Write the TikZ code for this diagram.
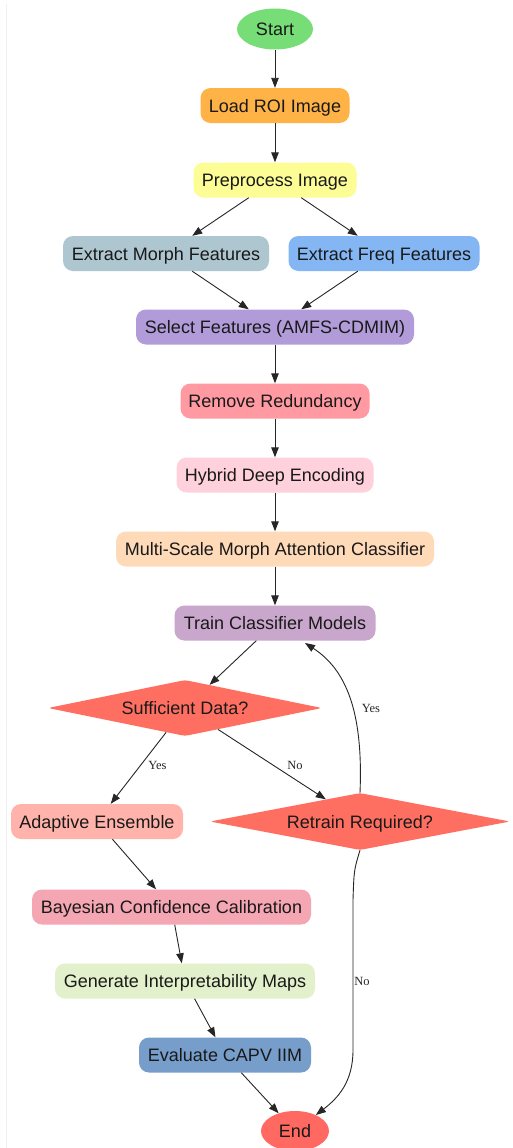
\documentclass[tikz,border=0pt]{standalone}
\usepackage{fontspec}
\setmainfont{Liberation Sans}
\newfontfamily\labelfont{Liberation Serif}
\usetikzlibrary{shapes.geometric,arrows.meta}

\definecolor{cStart}{HTML}{77DD77}
\definecolor{cLoad}{HTML}{FFB347}
\definecolor{cPre}{HTML}{FDFD96}
\definecolor{cMorph}{HTML}{AEC6CF}
\definecolor{cFreq}{HTML}{84B6F4}
\definecolor{cSelect}{HTML}{B19CD9}
\definecolor{cRedund}{HTML}{FF9AA2}
\definecolor{cHybrid}{HTML}{FFD1DC}
\definecolor{cMulti}{HTML}{FFDAB9}
\definecolor{cTrain}{HTML}{C9A6CB}
\definecolor{cDecide}{HTML}{FF6F61}
\definecolor{cAdapt}{HTML}{FFB3AB}
\definecolor{cBayes}{HTML}{F4A6B3}
\definecolor{cGen}{HTML}{E2F0CB}
\definecolor{cEval}{HTML}{779ECB}
\definecolor{cEnd}{HTML}{FF6961}

\tikzset{
  every node/.style={font=\fontsize{18}{21}\selectfont, text=black!90},
  boxtext/.style={text height=13pt, text depth=0pt},
  procbox/.style={boxtext, rectangle, rounded corners=10pt, minimum height=35pt, inner sep=0pt},
  ovalbox/.style={boxtext, ellipse, inner sep=0pt},
  decision/.style={boxtext, diamond, rounded corners=3pt, inner sep=0pt, shape aspect=5},
  flow/.style={draw=black!85, line width=0.9pt, -{Triangle[length=10pt,width=7.5pt]}},
  edgelabel/.style={font=\labelfont\fontsize{12.5}{14}\selectfont, text=black!85,
    text height=8.5pt, text depth=0pt}
}

\begin{document}
\begin{tikzpicture}[x=1pt,y=-1pt]
\useasboundingbox (0,0) rectangle (512,1148);
\fill[white] (0,0) rectangle (512,1148);
\draw[black!6, line width=0.6pt] (6.5,4) -- (6.5,1148);

% nodes
\node[ovalbox, fill=cStart, minimum width=76pt, minimum height=41pt] (start) at (275,29) {Start};
\node[procbox, fill=cLoad, minimum width=149pt] (load) at (275,105.5) {Load ROI Image};
\node[procbox, fill=cPre, minimum width=163pt] (pre) at (275,180) {Preprocess Image};
\node[procbox, fill=cMorph, minimum width=206pt] (morph) at (166,253.5) {Extract Morph Features};
\node[procbox, fill=cFreq, minimum width=191pt] (freq) at (384,253.5) {Extract Freq Features};
\node[procbox, fill=cSelect, minimum width=278pt] (select) at (275,327) {Select Features (AMFS-CDMIM)};
\node[procbox, fill=cRedund, minimum width=189pt] (redund) at (275,401) {Remove Redundancy};
\node[procbox, fill=cHybrid, minimum width=197pt] (hybrid) at (275,475) {Hybrid Deep Encoding};
\node[procbox, fill=cMulti, minimum width=318pt] (multi) at (275,549) {Multi-Scale Morph Attention Classifier};
\node[procbox, fill=cTrain, minimum width=201pt] (train) at (275,623) {Train Classifier Models};
\node[decision, fill=cDecide, minimum width=274pt, minimum height=56pt] (suff) at (185,708) {Sufficient Data?};
\node[decision, fill=cDecide, minimum width=300pt, minimum height=57pt] (retrain) at (360,821.5) {Retrain Required?};
\node[procbox, fill=cAdapt, minimum width=172pt] (adapt) at (97,821.5) {Adaptive Ensemble};
\node[procbox, fill=cBayes, minimum width=279pt] (bayes) at (171.5,907) {Bayesian Confidence Calibration};
\node[procbox, fill=cGen, minimum width=260pt] (gen) at (185,981) {Generate Interpretability Maps};
\node[procbox, fill=cEval, minimum width=172pt] (eval) at (225,1055) {Evaluate CAPV IIM};
\node[ovalbox, fill=cEnd, minimum width=68pt, minimum height=40pt] (stop) at (295,1131) {End};

% edge labels
\node[edgelabel] (yesa) at (157.5,765) {Yes};
\node[edgelabel] (noa) at (295,765) {No};
\node[edgelabel] (yesb) at (371,708) {Yes};
\node[edgelabel] (nob) at (362,981) {No};

% connectors
\draw[flow] (start) -- (load);
\draw[flow] (load) -- (pre);
\draw[flow] (pre) -- (morph);
\draw[flow] (pre) -- (freq);
\draw[flow] (morph) -- (select);
\draw[flow] (freq) -- (select);
\draw[flow] (select) -- (redund);
\draw[flow] (redund) -- (hybrid);
\draw[flow] (hybrid) -- (multi);
\draw[flow] (multi) -- (train);
\draw[flow] (train) -- (suff);
\draw[flow] (suff) -- (adapt);
\draw[flow] (suff) -- (retrain);
\draw[flow] (retrain.north) .. controls (363,720) and (350,672) .. (305,643);
\draw[flow] (retrain.south) .. controls (354,870) .. (353,900) -- (353,1050)
  .. controls (353,1082) and (338,1098) .. (stop);
\draw[flow] (adapt) -- (bayes);
\draw[flow] (bayes) -- (gen);
\draw[flow] (gen) -- (eval);
\draw[flow] (eval) -- (stop);
\end{tikzpicture}
\end{document}
